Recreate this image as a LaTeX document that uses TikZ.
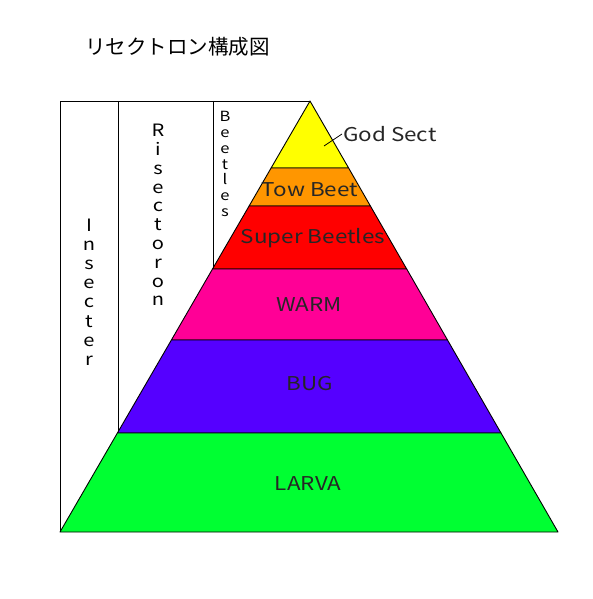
\documentclass[tikz,border=0pt]{standalone}
\usepackage{fontspec}
\setmainfont{Noto Sans CJK JP}
\newfontfamily\widefont[FakeStretch=1.18]{Noto Sans CJK JP}
\usepackage{tikz}
\usepackage{xcolor}
\definecolor{godyellow}{RGB}{255,255,0}
\definecolor{toworange}{RGB}{255,150,0}
\definecolor{superred}{RGB}{255,0,0}
\definecolor{warmpink}{RGB}{255,0,150}
\definecolor{bugviolet}{RGB}{85,0,255}
\definecolor{larvagreen}{RGB}{0,255,50}
\tikzset{
  layer/.style={draw=black,line width=0.9pt,line join=round},
  lbl/.style={font=\widefont\fontsize{19}{19}\selectfont,text=black!85},
  vcol/.style={align=center,inner sep=0pt},
}

\begin{document}
\begin{tikzpicture}[x=1pt,y=-1pt]
\useasboundingbox (0,0) rectangle (593,599);
% frame on the left
\draw[layer] (310,101) -- (60,101) -- (60,532);
\draw[layer] (118,101) -- (118,433);
\draw[layer] (213,101) -- (213,269);
% pyramid layers
\fill[godyellow] (310,101) -- (348.6,168) -- (271.1,168) -- cycle;
\draw[layer] (310,101) -- (348.6,168) -- (271.1,168) -- cycle;
\fill[toworange] (271.1,168) -- (348.6,168) -- (370.4,206) -- (249.1,206) -- cycle;
\draw[layer] (271.1,168) -- (348.6,168) -- (370.4,206) -- (249.1,206) -- cycle;
\fill[superred] (249.1,206) -- (370.4,206) -- (406.7,269) -- (212.5,269) -- cycle;
\draw[layer] (249.1,206) -- (370.4,206) -- (406.7,269) -- (212.5,269) -- cycle;
\fill[warmpink] (212.5,269) -- (406.7,269) -- (447.5,340) -- (171.4,340) -- cycle;
\draw[layer] (212.5,269) -- (406.7,269) -- (447.5,340) -- (171.4,340) -- cycle;
\fill[bugviolet] (171.4,340) -- (447.5,340) -- (501,433) -- (117.4,433) -- cycle;
\draw[layer] (171.4,340) -- (447.5,340) -- (501,433) -- (117.4,433) -- cycle;
\fill[larvagreen] (117.4,433) -- (501,433) -- (558,532) -- (60,532) -- cycle;
\draw[layer] (117.4,433) -- (501,433) -- (558,532) -- (60,532) -- cycle;
% labels
\node[font=\fontsize{20.5}{20.5}\selectfont,anchor=west,inner sep=0pt] (title) at (85,47) {リセクトロン構成図};
\node[lbl,anchor=west,inner sep=1pt] (godsect) at (342,134) {God Sect};
\coordinate (godtip) at (324,146);
\draw[line width=0.8pt] (godtip) -- (godsect.west);
\node[lbl] (towbeet) at (310,190) {Tow Beet};
\node[lbl] (super) at (313,238) {Super Beetles};
\node[lbl] (warm) at (309,305) {WARM};
\node[lbl] (bug) at (310,384) {BUG};
\node[lbl] (larva) at (308,484) {LARVA};
% vertical column texts
\node[vcol,font=\widefont\fontsize{17}{19.2}\selectfont] (insecter) at (89,292) {I\\n\\s\\e\\c\\t\\e\\r};
\node[vcol,font=\widefont\fontsize{17}{18.8}\selectfont] (risectoron) at (158,215) {R\\i\\s\\e\\c\\t\\o\\r\\o\\n};
\node[vcol,font=\widefont\fontsize{14}{15.7}\selectfont] (beetles) at (225,164) {B\\e\\e\\t\\l\\e\\s};
\end{tikzpicture}
\end{document}
